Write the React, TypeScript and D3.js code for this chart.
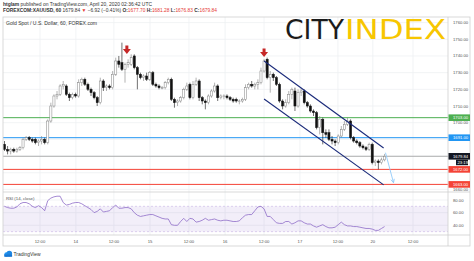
import React from "react";
import * as d3 from "d3";

const opens = [1687,1684,1683,1684,1683,1684,1685,1690,1691,1690,1690,1688,1689,1690,1688,1701,1710,1716,1717,1722,1722,1717,1715,1717,1716,1724,1726,1723,1720,1718,1715,1712,1725,1721,1722,1721,1729,1737,1736,1732,1735,1735,1740,1733,1729,1727,1728,1726,1730,1723,1722,1721,1721,1724,1726,1714,1712,1713,1715,1720,1723,1715,1723,1725,1715,1713,1712,1716,1719,1722,1715,1716,1716,1715,1714,1714,1713,1713,1714,1721,1723,1722,1723,1724,1731,1738,1727,1729,1727,1723,1713,1710,1712,1717,1719,1710,1718,1719,1712,1710,1707,1706,1697,1702,1694,1694,1690,1689,1688,1692,1696,1699,1701,1691,1689,1688,1686,1685,1684,1687,1676,1677,1676,1677.7];
const highs = [1689,1686,1685,1685,1685,1686,1691,1692,1692,1691,1691,1690,1692,1691,1702,1712,1717,1719,1723,1725,1723,1718,1718,1718,1726,1727,1727,1724,1721,1719,1716,1727,1726,1723,1723,1731,1739,1740,1748,1736,1738,1741,1741,1734,1730,1729,1730,1731,1731,1724,1723,1722,1725,1727,1727,1715,1714,1716,1721,1724,1724,1725,1727,1726,1716,1714,1717,1720,1724,1723,1717,1717,1717,1716,1715,1715,1714,1715,1723,1724,1725,1724,1726,1733,1738,1739,1731,1730,1728,1724,1714,1714,1719,1721,1721,1720,1721,1720,1713,1711,1708,1707,1704,1703,1696,1696,1692,1690,1693,1698,1701,1703,1702,1692,1690,1689,1687,1686,1688,1688,1678,1678,1679,1681.28];
const lows = [1683,1681,1681,1682,1682,1683,1684,1689,1689,1688,1687,1686,1687,1687,1687,1700,1709,1714,1716,1720,1716,1713,1714,1715,1715,1722,1722,1719,1716,1714,1710,1711,1719,1719,1720,1720,1728,1733,1731,1724,1733,1734,1732,1720,1726,1725,1725,1725,1722,1721,1720,1720,1720,1723,1713,1709,1710,1712,1714,1719,1714,1714,1722,1713,1711,1708,1711,1715,1718,1713,1714,1714,1714,1713,1712,1712,1711,1712,1713,1720,1721,1720,1720,1723,1730,1726,1718,1725,1722,1712,1708,1709,1711,1714,1707,1709,1716,1711,1709,1706,1704,1696,1693,1687,1691,1689,1687,1686,1687,1691,1695,1698,1690,1688,1687,1685,1684,1683,1683,1675,1674,1672,1675,1676.83];
const closes = [1684,1683,1684,1683,1684,1685,1690,1691,1690,1689,1688,1689,1690,1688,1701,1710,1716,1717,1722,1723,1717,1715,1717,1716,1724,1726,1723,1720,1718,1715,1712,1725,1721,1722,1721,1729,1737,1735,1732,1735,1736,1739,1733,1729,1727,1728,1726,1730,1723,1722,1721,1721,1724,1726,1714,1712,1713,1715,1720,1722,1715,1723,1725,1715,1713,1712,1716,1719,1722,1715,1716,1716,1715,1714,1713,1713,1713,1714,1721,1723,1722,1723,1724,1731,1737,1727,1729,1727,1723,1713,1710,1712,1717,1720,1710,1718,1719,1712,1710,1707,1706,1697,1702,1694,1693,1690,1689,1688,1692,1696,1699,1701,1691,1689,1688,1686,1685,1684,1687,1676,1677,1676,1677.7,1679.84];
const rsiValues = [70,68,67,67,69,74,76,76,74,70,68,71,68,63,79,83,85,86,86,76,72,73,75,76,76,74,71,68,65,60,62,66,61,62,63,68,72,67,67,68,68,66,60,56,54,55,56,57,57,55,53,51,50,50,41,40,40,46,51,46,51,50,45,46,48,51,48,49,50,48,47,48,48,47,46,46,47,52,56,57,57,63,69,70,66,54,54,49,44,43,43,46,46,42,44,47,47,44,42,42,39,37,39,41,38,36,36,37,41,45,41,39,39,38,38,37,36,35,35,34,32,32,35,38];

const timeTickIdx = [11.5, 23.1, 35.4, 47.1, 59.7, 71.4, 84, 95.6, 107.9, 119.2, 132.2];
const timeTickLabels = ["12:00", "14", "12:00", "15", "12:00", "16", "12:00", "17", "12:00", "20", "12:00"];
const gridPrices = [1660, 1670, 1680, 1690, 1700, 1710, 1720, 1730, 1740, 1750, 1760];
const priceTickLabels = [1760, 1750, 1740, 1730, 1720, 1710, 1700, 1660];
const rsiTicks = [80, 60, 40];
const rsiBand = [70, 30];
const levelPrices = [1703, 1691, 1672, 1663];
const lastPrice = 1679.84;
const channelUpper = [[84, 1737], [122.7, 1684.8]];
const channelLower = [[84, 1714.2], [122.7, 1662.7]];
const projection = [[123.3, 1682], [125.9, 1664]];
const peakArrows = [[39.6, 1741.2], [84, 1739.4]];

const levelColors = ["#4caf50", "#2196f3", "#f44336", "#f44336"];

export default function App() {
  const left = 3, right = 448, axisRight = 470, top = 17, mainBottom = 192, rsiBottom = 235, bottom = 246;
  const x = d3.scaleLinear().domain([0, 123]).range([4.5, 4.5 + 123 * 3.09]);
  const y = d3.scaleLinear().domain([1660, 1750]).range([189.4, 39.3]);
  const ry = d3.scaleLinear().domain([40, 80]).range([225.3, 200]);
  const rsiLine = d3.line<number>().x((_, i) => x(i)).y((d) => ry(d));
  const font = "'Liberation Sans', Arial, sans-serif";
  const fmt = d3.format(".2f");

  const arrowPath = (cx: number, tipY: number) => {
    const h = 8.5, w = 8, sw = 3;
    return `M${cx - sw / 2},${tipY - h} L${cx + sw / 2},${tipY - h} L${cx + sw / 2},${tipY - h + 3.5} L${cx + w / 2},${tipY - h + 3.5} L${cx},${tipY} L${cx - w / 2},${tipY - h + 3.5} L${cx - sw / 2},${tipY - h + 3.5} Z`;
  };

  const px1 = x(projection[0][0]), py1 = y(projection[0][1]);
  const px2 = x(projection[1][0]), py2 = y(projection[1][1]);
  const ang = Math.atan2(py2 - py1, px2 - px1);
  const ah = 4;

  return (
    <svg width={474} height={261} style={{ position: "absolute", left: 0, top: 0, background: "#fff" }}>
      <defs>
        <clipPath id="main"><rect x={left} y={top} width={right - left} height={mainBottom - top} /></clipPath>
        <clipPath id="rsi"><rect x={left} y={mainBottom} width={right - left} height={rsiBottom - mainBottom} /></clipPath>
      </defs>
      <rect x={0} y={0} width={474} height={261} fill="#fff" />

      {/* header */}
      <text x={3} y={6.3} fontFamily={font} fontSize={4.6} fill="#333" textLength={149} lengthAdjust="spacingAndGlyphs">
        <tspan fontWeight="bold">htglam</tspan> published on TradingView.com, April 20, 2020 02:36:42 UTC
      </text>
      <text x={3} y={12.4} fontFamily={font} fontSize={4.8} fill="#333" textLength={214} lengthAdjust="spacingAndGlyphs">
        <tspan fontWeight="bold">FOREXCOM:XAUUSD, 60</tspan>  1679.84 <tspan fill="#e53935">▼</tspan> −6.92 (−0.41%)  <tspan fontWeight="bold">O:</tspan><tspan fill="#e53935">1677.70</tspan> <tspan fontWeight="bold">H:</tspan><tspan fill="#e53935">1681.28</tspan> <tspan fontWeight="bold">L:</tspan><tspan fill="#e53935">1676.83</tspan> <tspan fontWeight="bold">C:</tspan><tspan fill="#e53935">1679.84</tspan>
      </text>

      {/* grid */}
      {gridPrices.map((p) => (
        <line key={"g" + p} x1={left} x2={right} y1={y(p)} y2={y(p)} stroke="#eef0f3" strokeWidth={0.8} />
      ))}
      {timeTickIdx.map((t, i) => (
        <line key={"v" + i} x1={x(t)} x2={x(t)} y1={top} y2={rsiBottom} stroke="#eef0f3" strokeWidth={0.8} />
      ))}
      {rsiTicks.map((r) => (
        <line key={"rg" + r} x1={left} x2={right} y1={ry(r)} y2={ry(r)} stroke="#eef0f3" strokeWidth={0.8} />
      ))}

      {/* logo */}
      <text x={285} y={38.5} fontFamily="'DejaVu Sans', sans-serif" fontSize={27} fill="#1b1b1b" textLength={59} lengthAdjust="spacingAndGlyphs">CITY</text>
      <text x={345} y={38.5} fontFamily="'DejaVu Sans', sans-serif" fontSize={27} fill="#f7c600" textLength={101} lengthAdjust="spacingAndGlyphs">INDEX</text>

      <text x={6} y={25.2} fontFamily={font} fontSize={4.6} fill="#333" textLength={91} lengthAdjust="spacingAndGlyphs">Gold Spot / U.S. Dollar, 60, FOREX.com</text>

      <g clipPath="url(#main)">
        {levelPrices.map((p, i) => (
          <line key={"l" + p} x1={left} x2={right} y1={y(p)} y2={y(p)} stroke={levelColors[i]} strokeWidth={1} />
        ))}
        <line x1={left} x2={right} y1={y(lastPrice)} y2={y(lastPrice)} stroke="#a8a8a8" strokeWidth={0.9} />
        {opens.map((o, i) => {
          const c = closes[i];
          const up = c >= o;
          const cx = x(i);
          const yt = y(Math.max(o, c));
          const yb = y(Math.min(o, c));
          return (
            <g key={"c" + i}>
              <line x1={cx} x2={cx} y1={y(highs[i])} y2={y(lows[i])} stroke={up ? "#808080" : "#111"} strokeWidth={0.6} />
              <rect x={cx - 1.05} y={yt} width={2.1} height={Math.max(0.6, yb - yt)} fill={up ? "#fff" : "#111"} stroke={up ? "#808080" : "#111"} strokeWidth={0.5} />
            </g>
          );
        })}
        <line x1={x(channelUpper[0][0])} y1={y(channelUpper[0][1])} x2={x(channelUpper[1][0])} y2={y(channelUpper[1][1])} stroke="#1a2a7a" strokeWidth={1.1} />
        <line x1={x(channelLower[0][0])} y1={y(channelLower[0][1])} x2={x(channelLower[1][0])} y2={y(channelLower[1][1])} stroke="#1a2a7a" strokeWidth={1.1} />
        <line x1={px1} y1={py1} x2={px2} y2={py2} stroke="#90caf9" strokeWidth={0.9} />
        <path d={`M${px2 - ah * Math.cos(ang - 0.45)},${py2 - ah * Math.sin(ang - 0.45)} L${px2},${py2} L${px2 - ah * Math.cos(ang + 0.45)},${py2 - ah * Math.sin(ang + 0.45)}`} fill="none" stroke="#90caf9" strokeWidth={0.9} />
        {peakArrows.map(([i, p], k) => (
          <path key={"a" + k} d={arrowPath(x(i), y(p))} fill="#c62828" />
        ))}
      </g>

      {/* RSI pane */}
      <text x={6} y={199.5} fontFamily={font} fontSize={4.3} fill="#555">RSI (14, close)</text>
      <rect x={left} y={ry(rsiBand[0])} width={right - left} height={ry(rsiBand[1]) - ry(rsiBand[0])} fill="#7e57c2" fillOpacity={0.1} />
      {rsiBand.map((r) => (
        <line key={"rb" + r} x1={left} x2={right} y1={ry(r)} y2={ry(r)} stroke="#c7b3e5" strokeWidth={0.6} strokeDasharray="2,2" />
      ))}
      <g clipPath="url(#rsi)">
        <path d={rsiLine(rsiValues) || ""} fill="none" stroke="#8e6cc8" strokeWidth={0.8} />
      </g>

      {/* frame */}
      <rect x={left} y={top} width={axisRight - left} height={bottom - top} fill="none" stroke="#cfcfcf" strokeWidth={0.8} />
      <line x1={right} x2={right} y1={top} y2={bottom} stroke="#cfcfcf" strokeWidth={0.8} />
      <line x1={left} x2={axisRight} y1={mainBottom} y2={mainBottom} stroke="#cfcfcf" strokeWidth={0.8} />
      <line x1={left} x2={axisRight} y1={rsiBottom} y2={rsiBottom} stroke="#cfcfcf" strokeWidth={0.8} />

      {/* price axis */}
      {priceTickLabels.map((p) => (
        <text key={"pt" + p} x={453} y={y(p) + 1.5} fontFamily={font} fontSize={4.2} fill="#555">{fmt(p)}</text>
      ))}
      {rsiTicks.map((r) => (
        <text key={"rt" + r} x={453} y={ry(r) + 1.5} fontFamily={font} fontSize={4.2} fill="#555">{fmt(r)}</text>
      ))}
      {levelPrices.map((p, i) => (
        <g key={"lb" + p}>
          <rect x={right + 0.5} y={y(p) - 3.3} width={axisRight - right - 0.5} height={6.6} fill={levelColors[i]} />
          <text x={453} y={y(p) + 1.5} fontFamily={font} fontSize={4.2} fill="#fff">{fmt(p)}</text>
        </g>
      ))}
      <rect x={right + 0.5} y={y(lastPrice) - 3.3} width={axisRight - right - 0.5} height={6.6} fill="#131722" />
      <text x={453} y={y(lastPrice) + 1.5} fontFamily={font} fontSize={4.2} fill="#fff">{fmt(lastPrice)}</text>
      <rect x={456} y={y(lastPrice) + 3.3} width={12} height={5.6} fill="#131722" />
      <text x={457.5} y={y(lastPrice) + 7.6} fontFamily={font} fontSize={4.2} fill="#fff">23:19</text>

      {/* time axis */}
      {timeTickIdx.map((t, i) => (
        <text key={"tt" + i} x={x(t)} y={242.5} textAnchor="middle" fontFamily={font} fontSize={4.2} fill="#555">{timeTickLabels[i]}</text>
      ))}

      {/* footer */}
      <g>
        <circle cx={6.5} cy={254.5} r={2.2} fill="#2196f3" />
        <circle cx={9.3} cy={253.6} r={2.8} fill="#1e88e5" />
        <rect x={4.3} y={254.5} width={7.8} height={2.3} fill="#1976d2" />
      </g>
      <text x={13.5} y={256.3} fontFamily={font} fontSize={4.6} fill="#333" textLength={27} lengthAdjust="spacingAndGlyphs">TradingView</text>
    </svg>
  );
}
